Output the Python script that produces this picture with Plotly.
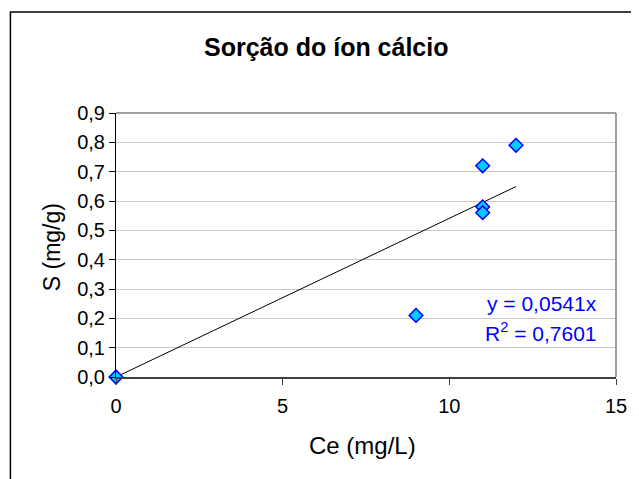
import plotly.graph_objects as go

# Data
ce_values = [0, 9, 11, 11, 11, 12]
s_values = [0.0, 0.21, 0.72, 0.58, 0.56, 0.79]
slope = 0.0541
r_squared = "0,7601"
slope_label = "0,0541"
title_text = "Sorção do íon cálcio"
x_title = "Ce (mg/L)"
y_title = "S (mg/g)"

FONT = "Arial, Liberation Sans, sans-serif"

# page body adds an 8px margin; compensate by shifting
OFF = 8
W, H = 639 - OFF, 479 - OFF
L, R, T, B = 116 - OFF, 618 - OFF, 113 - OFF, 377 - OFF

def px_x(p):
    return (p - OFF - L) / (R - L)

def px_y(p):
    return (B - (p - OFF)) / (B - T)

trend_x = [0, max(ce_values)]
trend_y = [slope * v for v in trend_x]

fig = go.Figure()
fig.add_trace(go.Scatter(x=trend_x, y=trend_y, mode="lines",
                         line=dict(color="black", width=1), showlegend=False,
                         hoverinfo="skip"))
fig.add_trace(go.Scatter(x=ce_values, y=s_values, mode="markers",
                         marker=dict(symbol="diamond", size=10.5, color="#00CCFF",
                                     line=dict(color="#0000FF", width=1.5)),
                         showlegend=False, cliponaxis=False))

fig.update_layout(
    width=W, height=H,
    margin=dict(l=L, r=W - R, t=T, b=H - B, pad=0),
    paper_bgcolor="white", plot_bgcolor="white",
    separators=",.",
    font=dict(family=FONT, size=20, color="black"),
    xaxis=dict(range=[0, 15], tickvals=[0, 5, 10, 15], ticks="outside", ticklen=6,
               tickcolor="#404040", showgrid=False, zeroline=False, showline=True,
               linecolor="#404040", linewidth=2, tickfont=dict(size=20, family=FONT),
               ticklabelstandoff=4, fixedrange=True),
    yaxis=dict(range=[0, 0.9], tickvals=[i / 10 for i in range(10)], tickformat=".1f",
               ticks="outside", ticklen=6, tickcolor="black", showgrid=True,
               gridcolor="#C8C8C8", gridwidth=1, zeroline=False, showline=True,
               linecolor="black", linewidth=1, tickfont=dict(size=20, family=FONT),
               fixedrange=True),
    shapes=[
        dict(type="line", xref="paper", yref="paper", x0=0, x1=1, y0=1, y1=1,
             line=dict(color="#808080", width=1.5)),
        dict(type="line", xref="paper", yref="paper", x0=1, x1=1, y0=0, y1=1,
             line=dict(color="#808080", width=1.5)),
        dict(type="rect", xref="paper", yref="paper",
             x0=px_x(10), x1=px_x(660), y0=px_y(500), y1=px_y(12),
             line=dict(color="black", width=1.5), fillcolor="rgba(0,0,0,0)"),
    ],
    annotations=[
        dict(text="<b>" + title_text + "</b>", xref="paper", yref="paper",
             x=px_x(327), y=px_y(47), xanchor="center", yanchor="middle",
             showarrow=False, font=dict(size=25, family=FONT)),
        dict(text=x_title, xref="paper", yref="paper", x=px_x(363), y=px_y(446),
             xanchor="center", yanchor="middle", showarrow=False,
             font=dict(size=24, family=FONT)),
        dict(text=y_title, xref="paper", yref="paper", x=px_x(52), y=px_y(247),
             xanchor="center", yanchor="middle", showarrow=False, textangle=-90,
             font=dict(size=23, family=FONT)),
        dict(text="y = " + slope_label + "x", xref="paper", yref="paper",
             x=px_x(601), y=px_y(303), xanchor="right", yanchor="middle",
             showarrow=False, font=dict(size=21, family=FONT, color="#0000FF")),
        dict(text="R<sup>2</sup> = " + r_squared, xref="paper", yref="paper",
             x=px_x(601), y=px_y(332), xanchor="right", yanchor="middle",
             showarrow=False, font=dict(size=21, family=FONT, color="#0000FF")),
    ],
)

fig.write_html("out.html")
